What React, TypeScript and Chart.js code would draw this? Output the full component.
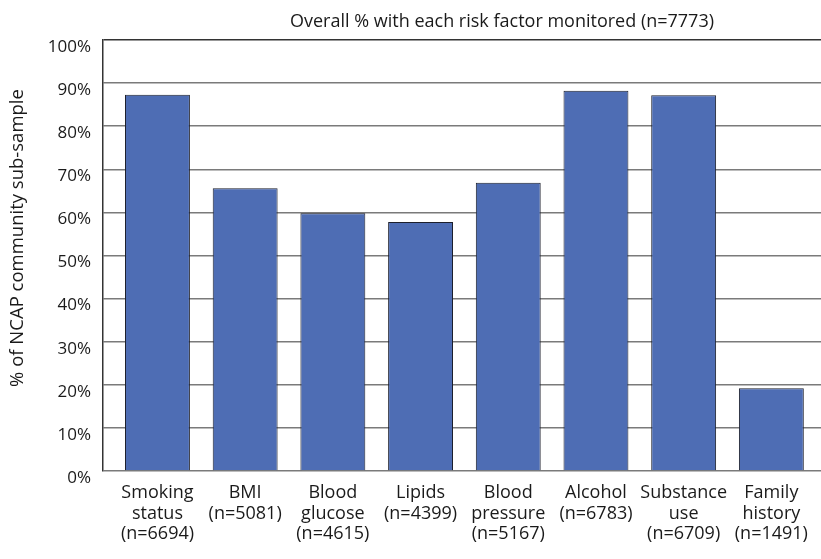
import React, { useEffect, useRef } from "react";
import { Chart, registerables } from "chart.js";

Chart.register(...registerables);

const chartTitle = "Overall % with each risk factor monitored (n=7773)";
const yAxisTitle = "% of NCAP community sub-sample";
const categories: string[][] = [
  ["Smoking", "status", "(n=6694)"],
  ["BMI", "(n=5081)"],
  ["Blood", "glucose", "(n=4615)"],
  ["Lipids", "(n=4399)"],
  ["Blood", "pressure", "(n=5167)"],
  ["Alcohol", "(n=6783)"],
  ["Substance", "use", "(n=6709)"],
  ["Family", "history", "(n=1491)"],
];
const percentMonitored: number[] = [87.3, 65.6, 59.8, 57.8, 66.9, 88.2, 87.2, 19.2];
const yTickValues: number[] = [0, 10, 20, 30, 40, 50, 60, 70, 80, 90, 100];

const FONT = "'Open Sans', 'Noto Sans', sans-serif";

const textPlugin = {
  id: "customText",
  afterDraw(chart: any) {
    const ctx = chart.ctx;
    ctx.save();
    ctx.fillStyle = "#1a1a1a";
    ctx.font = `18px ${FONT}`;
    ctx.textAlign = "center";
    ctx.textBaseline = "middle";
    ctx.fillText(chartTitle, 502, 22);
    ctx.translate(18, 238);
    ctx.rotate(-Math.PI / 2);
    ctx.font = `18.5px ${FONT}`;
    ctx.fillText(yAxisTitle, 0, 0);
    ctx.restore();
  },
};

export default function App() {
  const ref = useRef<HTMLCanvasElement | null>(null);
  useEffect(() => {
    if (!ref.current) return;
    const chart = new Chart(ref.current, {
      type: "bar",
      data: {
        datasets: [
          {
            data: percentMonitored.map((v, i) => ({ x: i, y: v })),
            backgroundColor: "#4e6db4",
            borderColor: "#1c1f2b",
            borderWidth: 1,
            barPercentage: 0.74,
            categoryPercentage: 1,
          },
        ],
      },
      options: {
        animation: false,
        responsive: false,
        maintainAspectRatio: false,
        layout: { padding: { top: 40, left: 0, right: 0, bottom: 0 } },
        plugins: {
          legend: { display: false },
          title: { display: false },
          tooltip: { enabled: false },
        },
        scales: {
          x: {
            type: "linear",
            offset: false,
            min: -0.621,
            max: 7.566,
            grid: { display: false, drawTicks: false },
            border: { display: false },
            afterBuildTicks: (scale: any) => {
              scale.ticks = categories.map((_, i) => ({ value: i }));
            },
            afterFit: (scale: any) => {
              scale.height = 88;
            },
            ticks: {
              autoSkip: false,
              maxRotation: 0,
              minRotation: 0,
              padding: 12,
              color: "#1a1a1a",
              font: { family: FONT, size: 18, lineHeight: 1.14 },
              callback: (v: any) => categories[Math.round(Number(v))] ?? "",
            },
          },
          y: {
            min: 0,
            max: 100,
            afterBuildTicks: (scale: any) => {
              scale.ticks = yTickValues.map((v) => ({ value: v }));
            },
            afterFit: (scale: any) => {
              scale.width = 103;
            },
            grid: {
              drawTicks: false,
              lineWidth: 1.5,
              color: (c: any) => (c.tick && c.tick.value === 100 ? "#333333" : "#7a7a7a"),
            },
            border: { display: true, color: "#333333", width: 1.5 },
            ticks: {
              padding: 12,
              labelOffset: 7,
              color: "#1a1a1a",
              font: { family: FONT, size: 17 },
              callback: (v: any) => `${v}%`,
            },
          },
        },
      },
      plugins: [textPlugin],
    } as any);
    return () => chart.destroy();
  }, []);
  return (
    <div style={{ position: "fixed", left: 0, top: 0, width: 821, height: 559, background: "#fff" }}>
      <canvas ref={ref} width={821} height={559} style={{ width: 821, height: 559, display: "block" }} />
    </div>
  );
}
